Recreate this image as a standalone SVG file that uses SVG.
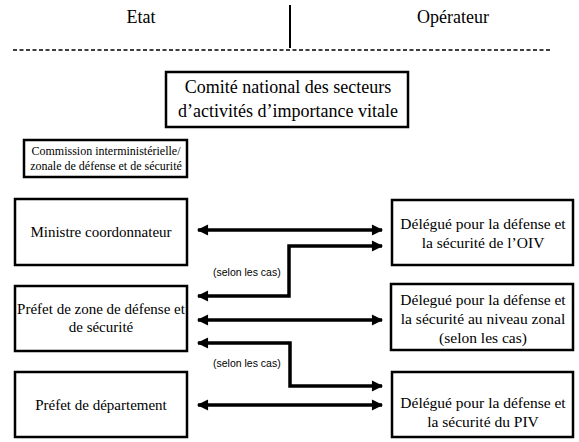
<svg xmlns="http://www.w3.org/2000/svg" width="579" height="442" viewBox="0 0 579 442">
<defs>
<style>
.box{fill:#fff;stroke:#000;stroke-width:2.5}
.t{font-size:15px;fill:#000;text-anchor:middle}
.tr{font-size:15.5px;fill:#000;text-anchor:middle}
.h{font-size:18px;fill:#000;text-anchor:middle}
.big{font-size:18px;fill:#000;text-anchor:middle}
.sm{font-size:12px;fill:#000;text-anchor:middle}
.lbl{font-size:10.5px;fill:#000}
.c{fill:none;stroke:#000;stroke-width:3.5}
</style>
<marker id="ah" viewBox="0 0 10 10" refX="9" refY="5" markerWidth="4" markerHeight="3.2" orient="auto-start-reverse" markerUnits="strokeWidth">
<path d="M0,0 L10,5 L0,10 z" fill="#000"/>
</marker>
</defs>
<rect width="579" height="442" fill="#fff"/>
<g font-family="'Liberation Serif', 'DejaVu Serif', serif">
<g id="header">
<text class="h" x="141" y="23">Etat</text>
<text class="h" x="453" y="23">Opérateur</text>
<line x1="290" y1="5" x2="290" y2="48" stroke="#000" stroke-width="2"/>
<line x1="13" y1="50" x2="552" y2="50" stroke="#000" stroke-width="1.3" stroke-dasharray="4,2.5"/>
</g>
<g id="comite">
<rect class="box" x="166" y="72" width="242" height="55"/>
<text class="big" x="288" y="93">Comité national des secteurs</text>
<text class="big" x="288" y="117">d’activités d’importance vitale</text>
</g>
<g id="commission">
<rect class="box" x="24" y="140" width="163" height="37"/>
<text class="sm" x="106" y="155">Commission interministérielle/</text>
<text class="sm" x="106" y="170">zonale de défense et de sécurité</text>
</g>
<g id="ministre">
<rect class="box" x="15" y="199" width="172" height="66"/>
<text class="t" x="101" y="237">Ministre coordonnateur</text>
</g>
<g id="prefet-zone">
<rect class="box" x="15" y="286" width="172" height="65"/>
<text class="t" x="101" y="314">Préfet de zone de défense et</text>
<text class="t" x="101" y="332">de sécurité</text>
</g>
<g id="prefet-dep">
<rect class="box" x="15" y="372" width="172" height="65"/>
<text class="t" x="101" y="410">Préfet de département</text>
</g>
<g id="delegue-oiv">
<rect class="box" x="392" y="200" width="181" height="65"/>
<text class="tr" x="483" y="229">Délégué pour la défense et</text>
<text class="tr" x="483" y="248">la sécurité de l’OIV</text>
</g>
<g id="delegue-zonal">
<rect class="box" x="391" y="284" width="182" height="66"/>
<text class="tr" x="483" y="305">Délegué pour la défense et</text>
<text class="tr" x="483" y="324">la sécurité au niveau zonal</text>
<text class="tr" x="483" y="343">(selon les cas)</text>
</g>
<g id="delegue-piv">
<rect class="box" x="392" y="372" width="181" height="65"/>
<text class="tr" x="483" y="408">Délégué pour la défense et</text>
<text class="tr" x="483" y="427">la sécurité du PIV</text>
</g>
</g>
<g id="connectors">
<line class="c" x1="198" y1="230" x2="382" y2="230" marker-start="url(#ah)" marker-end="url(#ah)"/>
<polyline class="c" points="198,296 289,296 289,246 382,246" marker-start="url(#ah)" marker-end="url(#ah)"/>
<line class="c" x1="198" y1="320" x2="382" y2="320" marker-start="url(#ah)" marker-end="url(#ah)"/>
<polyline class="c" points="198,343 290,343 290,386 382,386" marker-start="url(#ah)" marker-end="url(#ah)"/>
<line class="c" x1="198" y1="405" x2="382" y2="405" marker-start="url(#ah)" marker-end="url(#ah)"/>
<g font-family="'Liberation Sans', Arial, sans-serif">
<text class="lbl" x="213" y="276">(selon les cas)</text>
<text class="lbl" x="213" y="367">(selon les cas)</text>
</g>
</g>
</svg>
